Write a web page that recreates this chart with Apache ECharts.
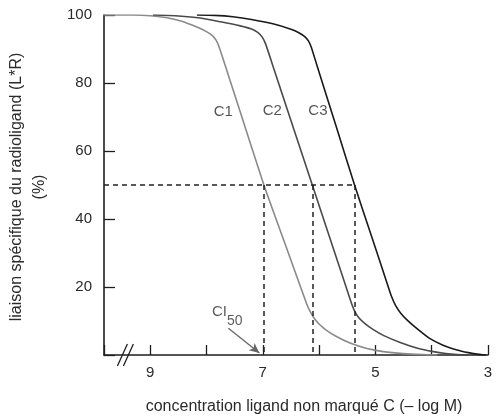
<!DOCTYPE html>
<html>
<head>
<meta charset="utf-8">
<script src="https://cdn.jsdelivr.net/npm/echarts@6/dist/echarts.min.js"></script>
<style>
  html, body { margin: 0; padding: 0; background: #fff; }
  #chart { width: 496px; height: 420px; }
</style>
</head>
<body>
<div id="chart"></div>
<script>
// Competition binding curves: specific binding (%) vs -log [unlabelled ligand]
const curveNames = ['C1', 'C2', 'C3'];
const c1 = [[9.83, 100], [9.3, 100], [9.0, 99.8], [8.7, 99.2], [8.41, 98.0], [8.15, 96.3],
            [8.0, 95.1], [7.90, 94.0], [7.83, 92.6], [7.78, 90.8], [7.67, 85.3], [7.4, 71.5],
            [6.98, 50], [6.6, 32.5], [6.3, 18.7], [6.22, 15.0], [6.16, 12.8], [6.09, 10.9],
            [6.0, 9.1], [5.88, 7.4], [5.7, 5.5], [5.45, 3.5], [5.15, 1.9], [4.86, 1.0],
            [4.5, 0.4], [4.15, 0.1], [3.9, 0]];
const c2 = [[8.95, 100], [8.5, 99.7], [8.11, 99.1], [7.75, 98.0], [7.4, 96.8], [7.2, 95.9],
            [7.09, 94.9], [7.01, 93.5], [6.95, 91.5], [6.82, 85.0], [6.5, 69.0],
            [6.12, 50], [5.85, 36.5], [5.57, 22.5], [5.42, 15.0], [5.36, 12.6], [5.29, 10.9],
            [5.19, 9.3], [5.05, 7.6], [4.85, 5.7], [4.56, 3.7], [4.25, 2.0], [3.97, 1.0],
            [3.75, 0.45], [3.55, 0.15], [3.35, 0]];
const c3 = [[8.17, 100], [7.85, 99.9], [7.53, 99.5], [7.2, 98.7], [6.82, 97.4], [6.5, 95.8],
            [6.36, 94.8], [6.26, 93.7], [6.19, 92.4], [6.14, 90.6], [6.04, 85.3], [5.7, 67.4],
            [5.37, 50], [5.08, 35.5], [4.80, 21.5], [4.72, 17.5], [4.64, 14.5], [4.55, 12.3],
            [4.43, 10.2], [4.25, 7.6], [4.03, 4.8], [3.8, 2.9], [3.55, 1.5], [3.35, 0.7],
            [3.2, 0.25], [3.1, 0.05], [3.03, 0]];
const ci50 = [6.98, 6.12, 5.37];
const halfBinding = 50;
const curveLabelPos = [[7.70, 71.5], [6.83, 71.8], [6.02, 71.8]];
const ciLabelPos = [7.63, 13.3];
const ciArrow = [[7.61, 7.9], [7.06, 0.6]];
const breakAt = 9.44;
const xTickLabels = ['9', '7', '5', '3'];
const yTickLabels = ['20', '40', '60', '80', '100'];
const xMin = 3, xMax = 9.82;
const yMin = 0, yMax = 100;

const curveColors = ['#8a8a8a', '#4a4a4a', '#1a1a1a'];
const FONT = '"Liberation Sans", Arial, Helvetica, sans-serif';
const ink = '#1e1e1e';
const textInk = '#2a2a2a';

const chart = echarts.init(document.getElementById('chart'), null, { renderer: 'canvas' });

const curveSeries = [c1, c2, c3].map((d, i) => ({
  name: curveNames[i],
  type: 'line',
  data: d,
  smooth: 0.2,
  showSymbol: false,
  symbol: 'none',
  lineStyle: { color: curveColors[i], width: 1.6 },
  z: 3
}));

// Dashed guides at half binding: horizontal to the last curve, verticals down to the axis
const guideLines = [[{ coord: [xMax, halfBinding] }, { coord: [ci50[2], halfBinding] }]]
  .concat(ci50.map(v => [{ coord: [v, halfBinding] }, { coord: [v, 0] }]));

const option = {
  animation: false,
  backgroundColor: '#fff',
  grid: { left: 104, right: 8, top: 15, bottom: 65, containLabel: false },
  xAxis: {
    type: 'value',
    inverse: true,
    min: xMin,
    max: xMax,
    interval: 1,
    splitLine: { show: false },
    axisLine: { lineStyle: { color: ink, width: 1.6 } },
    axisTick: { inside: true, length: 10, lineStyle: { color: ink, width: 1.3 } },
    axisLabel: {
      margin: 10,
      color: textInk,
      fontFamily: FONT,
      fontSize: 15,
      formatter: v => xTickLabels.includes(String(v)) ? String(v) : ''
    }
  },
  yAxis: {
    type: 'value',
    min: yMin,
    max: yMax,
    interval: 20,
    splitLine: { show: false },
    axisLine: { show: true, lineStyle: { color: ink, width: 1.6 } },
    axisTick: { show: true, inside: true, length: 11, lineStyle: { color: ink, width: 1.3 } },
    axisLabel: {
      margin: 12,
      color: textInk,
      fontFamily: FONT,
      fontSize: 15,
      formatter: v => yTickLabels.includes(String(v)) ? String(v) : ''
    }
  },
  series: curveSeries.concat([
    {
      name: 'guides',
      type: 'line',
      data: [],
      markLine: {
        silent: true,
        symbol: ['none', 'none'],
        label: { show: false },
        lineStyle: { color: '#222', width: 1.5, type: [5, 4] },
        data: guideLines
      },
      z: 2
    },
    {
      name: 'arrow',
      type: 'line',
      data: [],
      markLine: {
        silent: true,
        symbol: ['none', 'arrow'],
        symbolSize: [7, 10],
        label: { show: false },
        lineStyle: { color: '#666', width: 1.3, type: 'solid' },
        itemStyle: { color: '#666' },
        data: [[{ coord: ciArrow[0] }, { coord: ciArrow[1] }]]
      },
      z: 4
    },
    {
      name: 'labels',
      type: 'scatter',
      symbolSize: 0,
      data: curveLabelPos.map((p, i) => ({ value: p, name: curveNames[i] })),
      label: {
        show: true,
        position: 'inside',
        formatter: p => p.name,
        color: textInk,
        fontFamily: FONT,
        fontSize: 15
      },
      z: 5
    },
    {
      name: 'ci50',
      type: 'scatter',
      symbolSize: 0,
      data: [{ value: ciLabelPos, name: 'CI50' }],
      label: {
        show: true,
        position: 'inside',
        formatter: '{a|CI}{b|50}',
        rich: {
          a: { color: '#333', fontFamily: FONT, fontSize: 15, verticalAlign: 'bottom', lineHeight: 20 },
          b: { color: '#333', fontFamily: FONT, fontSize: 14, verticalAlign: 'bottom', lineHeight: 20, padding: [0, 0, -8, 0] }
        }
      },
      z: 5
    }
  ])
};

chart.setOption(option);

// Axis-break marks, axis titles
const bp = chart.convertToPixel({ gridIndex: 0 }, [breakAt, 0]);
const breakMarks = [-3, 3].map(dx => ({
  type: 'line',
  shape: { x1: bp[0] + dx - 5, y1: bp[1] + 11, x2: bp[0] + dx + 5, y2: bp[1] - 11 },
  style: { stroke: ink, lineWidth: 1.3 },
  z: 10
}));

chart.setOption({
  graphic: breakMarks.concat([
    {
      type: 'text',
      x: 28, y: 187,
      rotation: Math.PI / 2,
      style: {
        text: 'liaison spécifique du radioligand (L*R)\n(%)',
        fontFamily: FONT,
        fontSize: 16,
        lineHeight: 23,
        fill: textInk,
        align: 'center',
        verticalAlign: 'middle'
      }
    },
    {
      type: 'text',
      x: 304, y: 407,
      style: {
        text: 'concentration ligand non marqué C (– log M)',
        fontFamily: FONT,
        fontSize: 16,
        fill: textInk,
        align: 'center',
        verticalAlign: 'middle'
      }
    }
  ])
});
</script>
</body>
</html>
